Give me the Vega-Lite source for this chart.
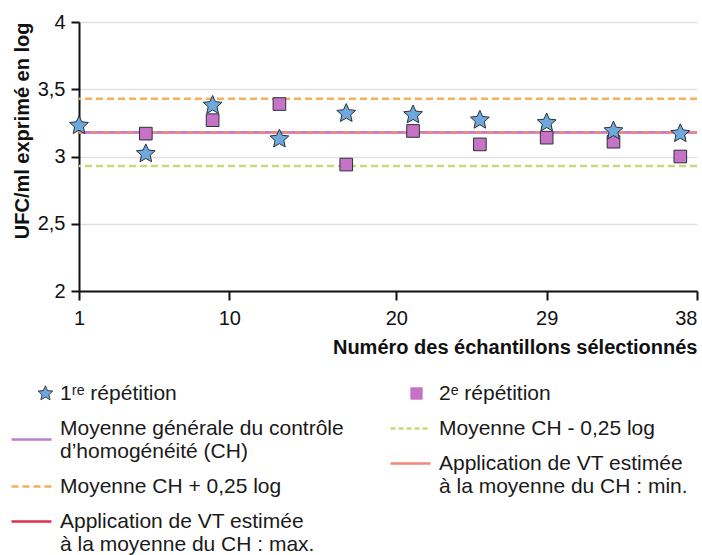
{
  "$schema": "https://vega.github.io/schema/vega-lite/v6.json",
  "width": 618,
  "height": 269,
  "autosize": {"type": "none"},
  "padding": {"left": 79, "top": 22, "right": 5, "bottom": 264},
  "background": "white",
  "config": {
    "view": {"stroke": null},
    "font": "Liberation Sans",
    "axis": {"labelFont": "Liberation Sans", "titleFont": "Liberation Sans", "labelColor": "#111", "titleColor": "#111"},
    "legend": {"labelFont": "Liberation Sans"}
  },
  "datasets": {
    "points": [
      {"echantillon": 5, "serie": "2ᵉ répétition", "valeur": 3.17},
      {"echantillon": 9, "serie": "2ᵉ répétition", "valeur": 3.27},
      {"echantillon": 13, "serie": "2ᵉ répétition", "valeur": 3.39},
      {"echantillon": 17, "serie": "2ᵉ répétition", "valeur": 2.94},
      {"echantillon": 21, "serie": "2ᵉ répétition", "valeur": 3.19},
      {"echantillon": 25, "serie": "2ᵉ répétition", "valeur": 3.09},
      {"echantillon": 29, "serie": "2ᵉ répétition", "valeur": 3.14},
      {"echantillon": 33, "serie": "2ᵉ répétition", "valeur": 3.11},
      {"echantillon": 37, "serie": "2ᵉ répétition", "valeur": 3.0},
      {"echantillon": 1, "serie": "1ʳᵉ répétition", "valeur": 3.23},
      {"echantillon": 5, "serie": "1ʳᵉ répétition", "valeur": 3.02},
      {"echantillon": 9, "serie": "1ʳᵉ répétition", "valeur": 3.38},
      {"echantillon": 13, "serie": "1ʳᵉ répétition", "valeur": 3.13},
      {"echantillon": 17, "serie": "1ʳᵉ répétition", "valeur": 3.32},
      {"echantillon": 21, "serie": "1ʳᵉ répétition", "valeur": 3.31},
      {"echantillon": 25, "serie": "1ʳᵉ répétition", "valeur": 3.27},
      {"echantillon": 29, "serie": "1ʳᵉ répétition", "valeur": 3.25},
      {"echantillon": 33, "serie": "1ʳᵉ répétition", "valeur": 3.19},
      {"echantillon": 37, "serie": "1ʳᵉ répétition", "valeur": 3.17}
    ],
    "lignes": [
      {"serie": "Application de VT estimée à la moyenne du CH : max.", "valeur": 3.18},
      {"serie": "Moyenne générale du contrôle d’homogénéité (CH)", "valeur": 3.18},
      {"serie": "Application de VT estimée à la moyenne du CH : min.", "valeur": 3.18},
      {"serie": "Moyenne CH + 0,25 log", "valeur": 3.43},
      {"serie": "Moyenne CH - 0,25 log", "valeur": 2.93}
    ]
  },
  "layer": [
    {
      "data": {"name": "lignes"},
      "mark": {"type": "rule", "strokeWidth": 2.5},
      "encoding": {
        "y": {"field": "valeur", "type": "quantitative"},
        "color": {"field": "serie", "type": "nominal"},
        "strokeDash": {
          "field": "serie", "type": "nominal",
          "scale": {
            "domain": ["1ʳᵉ répétition", "Moyenne générale du contrôle d’homogénéité (CH)", "Moyenne CH + 0,25 log", "Application de VT estimée à la moyenne du CH : max.", "2ᵉ répétition", "Moyenne CH - 0,25 log", "Application de VT estimée à la moyenne du CH : min."],
            "range": [[1, 0], [1, 0], [7, 4], [1, 0], [1, 0], [7, 4], [6, 6]]
          },
          "legend": {
            "title": null,
            "orient": "none",
            "legendX": -58,
            "legendY": 361,
            "values": ["1ʳᵉ répétition", "Moyenne générale du contrôle d’homogénéité (CH)", "Moyenne CH + 0,25 log", "Application de VT estimée à la moyenne du CH : max."],
            "rowPadding": 13,
            "symbolSize": 1600,
            "labelFontSize": 21,
            "labelColor": "#1a1a1a",
            "labelLimit": 420,
            "labelOffset": 18,
            "labelExpr": "datum.label == 'Moyenne générale du contrôle d’homogénéité (CH)' ? ['Moyenne générale du contrôle', 'd’homogénéité (CH)'] : datum.label == 'Application de VT estimée à la moyenne du CH : max.' ? ['Application de VT estimée', 'à la moyenne du CH : max.'] : datum.label",
            "encode": {
              "labels": {"update": {"lineHeight": {"value": 23}}},
              "symbols": {
                "update": {
                  "shape": {"signal": "datum.value == '1ʳᵉ répétition' ? 'M1.8,-1L2.076,-0.38L2.751,-0.309L2.247,0.145L2.388,0.809L1.8,0.47L1.212,0.809L1.353,0.145L0.849,-0.309L1.524,-0.38Z' : datum.value == 'Moyenne générale du contrôle d’homogénéité (CH)' ? 'M-1,0.55L1,0.55' : 'stroke'"},
                  "size": {"signal": "datum.value == '1ʳᵉ répétition' ? 240 : 1600"},
                  "fill": {"signal": "datum.value == '1ʳᵉ répétition' ? scale('color', datum.value) : 'transparent'"},
                  "stroke": {"signal": "datum.value == '1ʳᵉ répétition' ? '#2b3138' : scale('color', datum.value)"},
                  "strokeWidth": {"signal": "datum.value == '1ʳᵉ répétition' ? 1 : 2.5"},
                  "strokeOpacity": {"value": 1},
                  "fillOpacity": {"value": 1},
                  "opacity": {"value": 1}
                }
              }
            }
          }
        }
      }
    },
    {
      "data": {"name": "points"},
      "mark": {"type": "point", "filled": true, "opacity": 1, "stroke": "#2b3138", "strokeWidth": 1},
      "encoding": {
        "x": {
          "field": "echantillon", "type": "quantitative",
          "scale": {"domain": [1, 38], "nice": false, "zero": false},
          "axis": {
            "values": [1, 10, 20, 29, 38],
            "title": "Numéro des échantillons sélectionnés",
            "titleAnchor": "end", "titleFontSize": 20, "titleFontWeight": "bold", "titlePadding": 9,
            "labelFontSize": 20, "labelPadding": 8,
            "labelAlign": {"condition": {"test": "datum.value == 38", "value": "right"}, "value": "center"},
            "domainColor": "#111", "domainWidth": 2, "tickColor": "#111", "tickWidth": 2, "tickSize": 9,
            "grid": false, "labelFlush": false
          }
        },
        "y": {"field": "valeur", "type": "quantitative"},
        "color": {"field": "serie", "type": "nominal"},
        "shape": {
          "field": "serie", "type": "nominal", "legend": null,
          "scale": {
            "domain": ["1ʳᵉ répétition", "2ᵉ répétition"],
            "range": ["M0,-1L0.276,-0.38L0.951,-0.309L0.447,0.145L0.588,0.809L0,0.47L-0.588,0.809L-0.447,0.145L-0.951,-0.309L-0.276,-0.38Z", "square"]
          }
        },
        "size": {
          "field": "serie", "type": "nominal", "legend": null,
          "scale": {"domain": ["1ʳᵉ répétition", "2ᵉ répétition"], "range": [390, 160]}
        }
      }
    }
  ],
  "encoding": {
    "y": {
      "field": "valeur", "type": "quantitative",
      "scale": {"domain": [2, 4], "nice": false, "zero": false},
      "axis": {
        "values": [2, 2.5, 3, 3.5, 4],
        "labelExpr": "replace(toString(datum.value), '.', ',')",
        "title": "UFC/ml exprimé en log",
        "titleAnchor": "end", "titleFontSize": 20, "titleFontWeight": "bold", "titlePadding": 5,
        "labelFontSize": 20, "labelPadding": 6,
        "domainColor": "#111", "domainWidth": 2, "tickColor": "#111", "tickWidth": 2, "tickSize": 8,
        "grid": true, "gridColor": "#e2e2e2", "gridWidth": 1.5
      }
    },
    "color": {
      "field": "serie", "type": "nominal",
      "scale": {
        "domain": ["2ᵉ répétition", "Moyenne CH - 0,25 log", "Application de VT estimée à la moyenne du CH : min.", "1ʳᵉ répétition", "Moyenne générale du contrôle d’homogénéité (CH)", "Moyenne CH + 0,25 log", "Application de VT estimée à la moyenne du CH : max."],
        "range": ["#c673c6", "#c2dc78", "#f4877a", "#6fa8dc", "#bb80d4", "#f7b05a", "#dd3347"]
      },
      "legend": {
        "title": null,
        "orient": "none",
        "legendX": 321,
        "legendY": 361,
        "values": ["2ᵉ répétition", "Moyenne CH - 0,25 log", "Application de VT estimée à la moyenne du CH : min."],
        "rowPadding": 13,
        "symbolSize": 1600,
        "labelFontSize": 21,
        "labelColor": "#1a1a1a",
        "labelLimit": 420,
        "labelOffset": 18,
        "labelExpr": "datum.label == 'Application de VT estimée à la moyenne du CH : min.' ? ['Application de VT estimée', 'à la moyenne du CH : min.'] : datum.label",
        "encode": {
          "labels": {"update": {"lineHeight": {"value": 23}}},
          "symbols": {
            "update": {
              "shape": {"signal": "datum.value == '2ᵉ répétition' ? 'M0.05,-1L2.05,-1L2.05,1L0.05,1Z' : 'stroke'"},
              "size": {"signal": "datum.value == '2ᵉ répétition' ? 130 : 1600"},
              "fill": {"signal": "datum.value == '2ᵉ répétition' ? scale('color', datum.value) : 'transparent'"},
              "stroke": {"signal": "datum.value == '2ᵉ répétition' ? '#3a3a3a' : scale('color', datum.value)"},
              "strokeWidth": {"signal": "datum.value == '2ᵉ répétition' ? 1 : 2.5"},
              "strokeDash": {"signal": "datum.value == 'Moyenne CH - 0,25 log' ? [5, 3] : [1, 0]"},
              "strokeOpacity": {"value": 1},
              "fillOpacity": {"value": 1},
              "opacity": {"value": 1}
            }
          }
        }
      }
    }
  }
}
